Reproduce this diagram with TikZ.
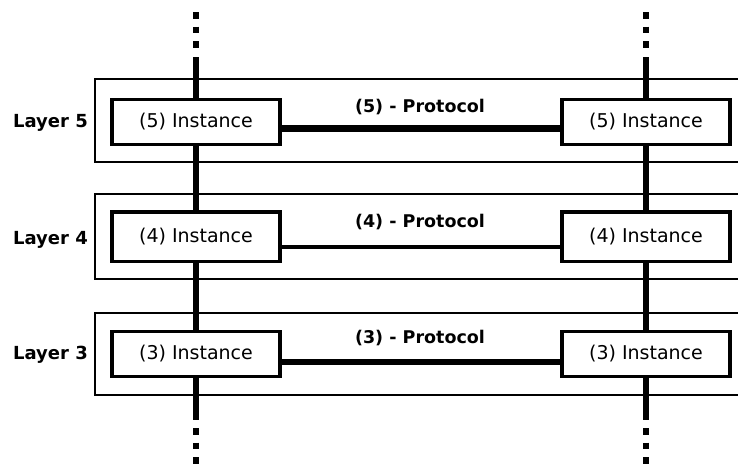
\documentclass[tikz,border=0pt]{standalone}
\usepackage{fontspec}
\setmainfont{DejaVu Sans}

\begin{document}
\begin{tikzpicture}[x=1pt, y=-1pt,
    inst/.style={rectangle, draw, line width=3.5pt, minimum width=168pt, minimum height=45pt, inner sep=0pt, fill=white, font=\fontsize{19}{22}\selectfont},
    frame/.style={draw, line width=2.5pt},
    lname/.style={anchor=east, inner sep=0pt, font=\bfseries\fontsize{18}{20}\selectfont},
    proto/.style={inner sep=0pt, font=\bfseries\fontsize{17.5}{20}\selectfont},
    stack/.style={line width=6.5pt},
    dots/.style={line width=6.5pt, dash pattern=on 6.5pt off 8pt},
]
\useasboundingbox (0,0) rectangle (738,466);

% layer frames, open on the right
\draw[frame] (760,79)  -| (95,162) -- (760,162);
\draw[frame] (760,194) -| (95,279) -- (760,279);
\draw[frame] (760,313) -| (95,395) -- (760,395);

% instances
\node[inst] (l5) at (196,122) {(5) Instance};
\node[inst] (r5) at (646,122) {(5) Instance};
\node[inst, minimum height=49.5pt] (l4) at (196,236.5) {(4) Instance};
\node[inst, minimum height=49.5pt] (r4) at (646,236.5) {(4) Instance};
\node[inst] (l3) at (196,354) {(3) Instance};
\node[inst] (r3) at (646,354) {(3) Instance};

% layer names
\node[lname] (n5) at (88,123) {Layer 5};
\node[lname] (n4) at (88,240) {Layer 4};
\node[lname] (n3) at (88,355) {Layer 3};

% protocol labels
\node[proto] (p5) at (420,107) {(5) - Protocol};
\node[proto] (p4) at (420,222) {(4) - Protocol};
\node[proto] (p3) at (420,338) {(3) - Protocol};

% peer protocols, a bit below the box middles
\draw[line width=7pt] ([yshift=-6pt]l5.east) -- ([yshift=-6pt]r5.west);
\draw[line width=4pt] ([yshift=-10pt]l4.east) -- ([yshift=-10pt]r4.west);
\draw[line width=5.5pt] ([yshift=-8pt]l3.east) -- ([yshift=-8pt]r3.west);

% stacks
\draw[stack] (l5) -- (l4);
\draw[stack] (l4) -- (l3);
\draw[stack] (r5) -- (r4);
\draw[stack] (r4) -- (r3);

% open ends, top and bottom
\coordinate (tl) at (196,57);
\coordinate (tr) at (646,57);
\coordinate (bl) at (196,420);
\coordinate (br) at (646,420);
\draw[stack] (tl) -- (l5);
\draw[stack] (tr) -- (r5);
\draw[stack] (l3) -- (bl);
\draw[stack] (r3) -- (br);
\draw[dots] (196,12) -- (196,48);
\draw[dots] (646,12) -- (646,48);
\draw[dots] (196,428) -- (196,464);
\draw[dots] (646,428) -- (646,464);

\end{tikzpicture}
\end{document}
